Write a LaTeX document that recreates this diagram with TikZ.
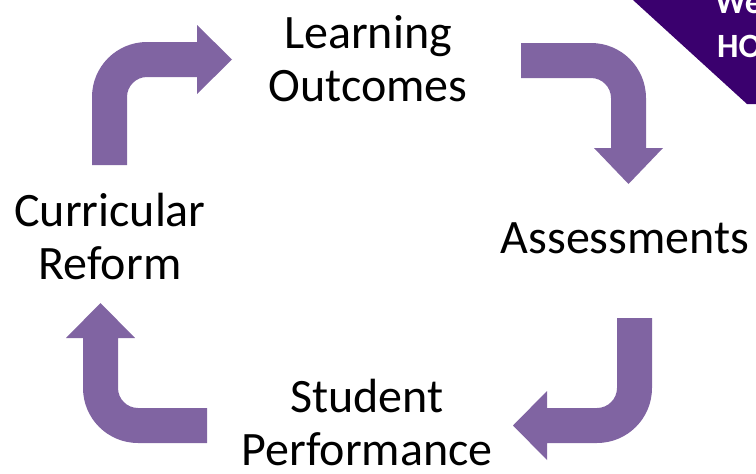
\documentclass[tikz,border=0pt]{standalone}
\usepackage{fontspec}
\setmainfont{Carlito}
\definecolor{arrowpurple}{RGB}{128,100,162}
\definecolor{bannerpurple}{RGB}{58,0,110}
\tikzset{
  lbl/.style={font=\fontsize{48}{53}\selectfont, align=center, inner sep=0pt, text=black},
  bnr/.style={font=\fontsize{34}{40}\selectfont\bfseries, text=white, inner sep=0pt, anchor=base west},
  arr/.style={fill=arrowpurple}
}
\begin{document}
\begin{tikzpicture}[x=1pt,y=-1pt]
\useasboundingbox (0,0) rectangle (756,474);
\clip (0,0) rectangle (756,474);
% banner
\fill[bannerpurple] (633,0) -- (760,0) -- (760,104) -- (747,104) -- cycle;
\node[bnr] (bw) at (715,13) {We};
\node[bnr] (bh) at (717,57) {HO};
% arrow 1: up then right
\fill[arr] (92,165) -- (92,97) .. controls (92,66.6) and (116.6,42) .. (147,42)
  -- (197,42) -- (197,25) -- (232,59.5) -- (197,94) -- (197,77) -- (147,77)
  .. controls (136,77) and (127,86) .. (127,97) -- (127,165) -- cycle;
% arrow 2: right then down
\fill[arr] (521,43) -- (591,43) .. controls (621.4,43) and (646,67.6) .. (646,98)
  -- (646,148) -- (663,148) -- (628.5,184) -- (594,148) -- (611,148) -- (611,98)
  .. controls (611,87) and (602,78) .. (591,78) -- (521,78) -- cycle;
% arrow 3: down then left
\fill[arr] (652,318) -- (652,388) .. controls (652,418.4) and (627.4,443) .. (597,443)
  -- (547,443) -- (547,460) -- (513,425.5) -- (547,391) -- (547,408) -- (597,408)
  .. controls (608,408) and (617,399) .. (617,388) -- (617,318) -- cycle;
% arrow 4: left then up
\fill[arr] (207,443) -- (138,443) .. controls (107.6,443) and (83,418.4) .. (83,388)
  -- (83,338) -- (66,338) -- (100.5,303) -- (135,338) -- (118,338) -- (118,388)
  .. controls (118,399) and (127,408) .. (138,408) -- (207,408) -- cycle;
% labels
\node[lbl] (lo) at (368,59) {Learning\\Outcomes};
\node[lbl] (as) at (625,238) {Assessments};
\node[lbl] (sp) at (367,423) {Student\\Performance};
\node[lbl] (cr) at (110,236) {Curricular\\Reform};
\end{tikzpicture}
\end{document}
